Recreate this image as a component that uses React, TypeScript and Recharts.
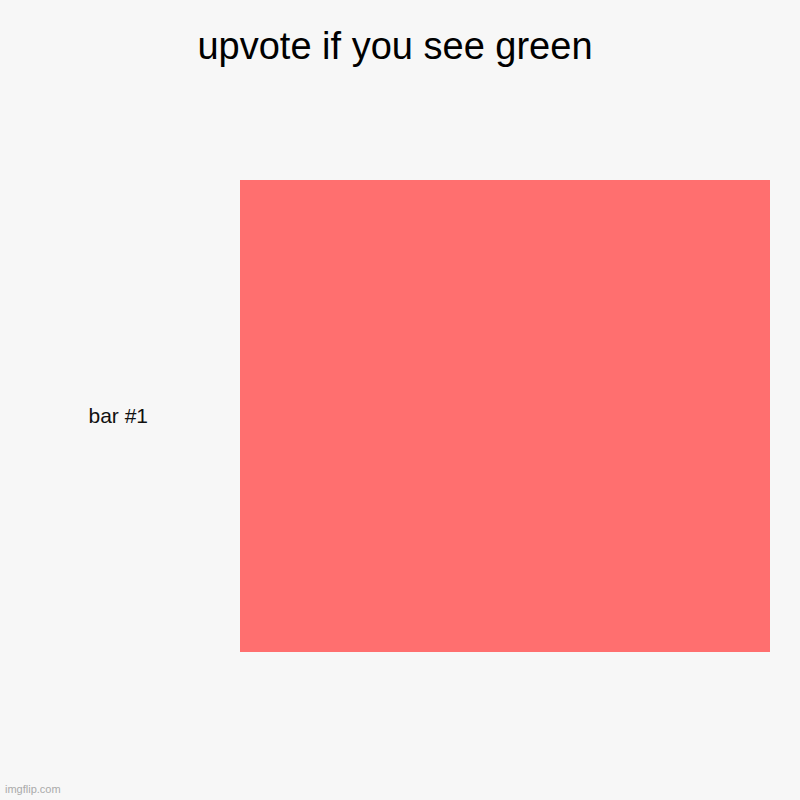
import { BarChart, Bar, XAxis, YAxis } from "recharts";

const categories = ["bar #1"];
const values = [1];
const title = "upvote if you see green";

const data = categories.map((name, i) => ({ name, value: values[i] }));

export default function App() {
  return (
    <div
      style={{
        position: "fixed",
        top: 0,
        left: 0,
        width: 800,
        height: 800,
        background: "#f7f7f7",
        fontFamily: "'Liberation Sans', Arial, sans-serif",
      }}
    >
      <div
        style={{
          position: "absolute",
          top: 24,
          left: 0,
          width: 790,
          textAlign: "center",
          fontSize: 38,
          lineHeight: "44px",
          color: "#000",
        }}
      >
        {title}
      </div>
      <BarChart
        width={800}
        height={800}
        data={data}
        layout="vertical"
        margin={{ top: 180, right: 30, bottom: 148, left: 0 }}
        barCategoryGap={0}
      >
        <XAxis type="number" domain={[0, 1]} hide />
        <YAxis
          type="category"
          dataKey="name"
          width={240}
          axisLine={false}
          tickLine={false}
          tickMargin={86}
          tick={{ fill: "#111", fontSize: 21, fontFamily: "'Liberation Sans', Arial, sans-serif" }}
        />
        <Bar dataKey="value" fill="#ff6f6f" isAnimationActive={false} />
      </BarChart>
      <div
        style={{
          position: "absolute",
          left: 5,
          top: 783,
          fontSize: 11,
          color: "#aaa",
        }}
      >
        imgflip.com
      </div>
    </div>
  );
}
